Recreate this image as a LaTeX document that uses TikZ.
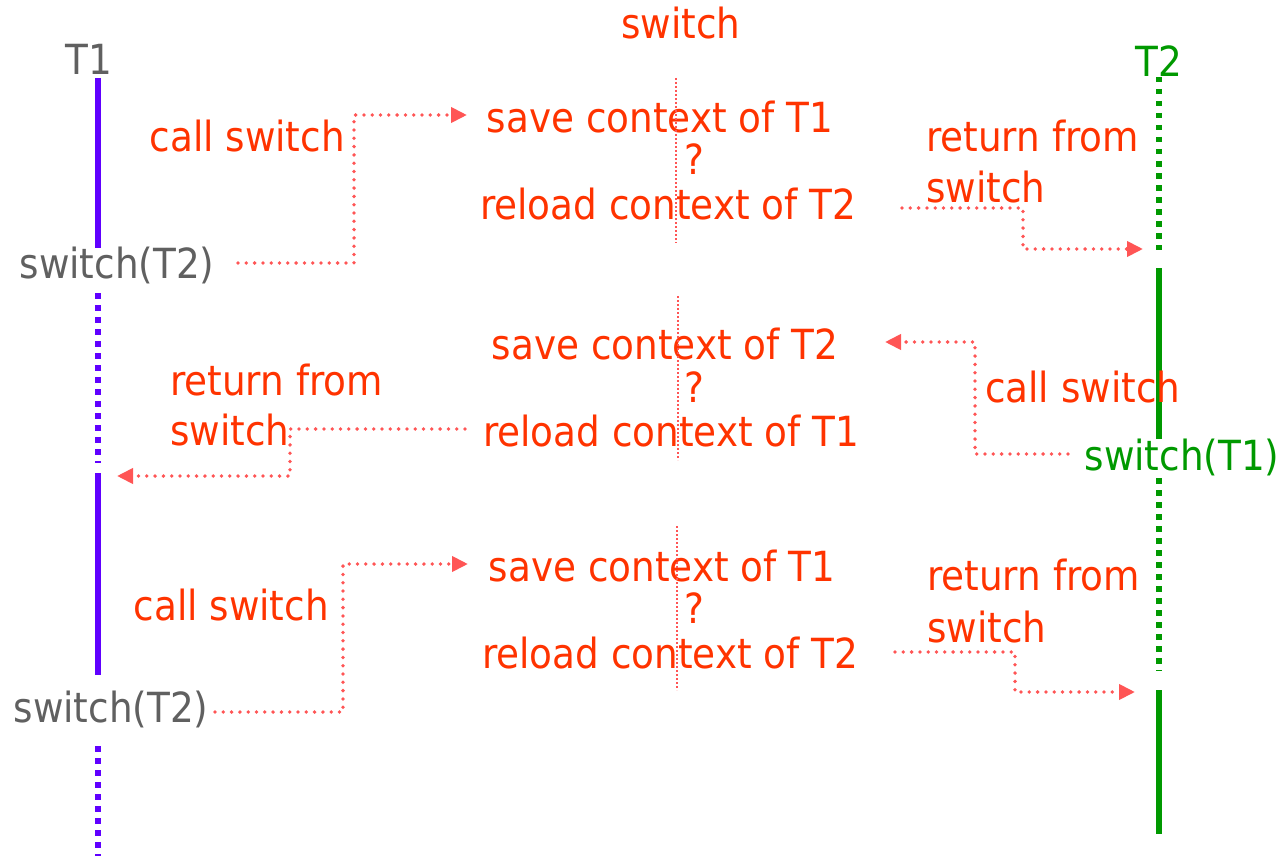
\documentclass[tikz,border=0pt]{standalone}
\usepackage{fontspec}
\setmainfont{DejaVu Sans Condensed}
\usetikzlibrary{arrows.meta}
\definecolor{txtred}{HTML}{FF3300}
\definecolor{flowred}{HTML}{FF5555}
\definecolor{txtgray}{HTML}{606060}
\definecolor{tonepurple}{HTML}{6000FF}
\definecolor{tonegreen}{HTML}{009900}
\begin{document}
\begin{tikzpicture}[x=1pt,y=-1pt,
  lbl/.style={inner sep=0pt, font=\fontsize{41.5}{50}\selectfont},
  redtxt/.style={lbl, text=txtred},
  graytxt/.style={lbl, text=txtgray},
  greentxt/.style={lbl, text=tonegreen},
  run/.style={line width=6pt},
  wait/.style={line width=6pt, dash pattern=on 5.5pt off 6.5pt},
  flow/.style={draw=flowred, line width=3.8pt, line cap=round,
    dash pattern=on 0pt off 8.3pt, -{Triangle[length=16pt,width=15pt]}},
  axis/.style={draw=flowred, line width=2pt, dash pattern=on 2pt off 2pt}
]
\useasboundingbox (0,0) rectangle (1285,856);

% headings
\node[redtxt, anchor=base] (title) at (681,39) {switch};
\node[graytxt, anchor=base] (t1) at (89,75) {T1};
\node[greentxt, anchor=base] (t2) at (1159,77) {T2};

% thread T1 timeline
\coordinate (p1a) at (98,78);  \coordinate (p1b) at (98,248);
\coordinate (p1c) at (98,293); \coordinate (p1d) at (98,463);
\coordinate (p1e) at (98,473); \coordinate (p1f) at (98,675);
\coordinate (p1g) at (98,746); \coordinate (p1h) at (98,856);
\draw[run, tonepurple] (p1a) -- (p1b);
\draw[wait, tonepurple] (p1c) -- (p1d);
\draw[run, tonepurple] (p1e) -- (p1f);
\draw[wait, tonepurple] (p1g) -- (p1h);

% thread T2 timeline
\coordinate (p2a) at (1159,77);  \coordinate (p2b) at (1159,250);
\coordinate (p2c) at (1159,268); \coordinate (p2d) at (1159,439);
\coordinate (p2e) at (1159,478); \coordinate (p2f) at (1159,671);
\coordinate (p2g) at (1159,690); \coordinate (p2h) at (1159,834);
\draw[wait, tonegreen] (p2a) -- (p2b);
\draw[run, tonegreen] (p2c) -- (p2d);
\draw[wait, tonegreen] (p2e) -- (p2f);
\draw[run, tonegreen] (p2g) -- (p2h);

% switch calls on the threads
\node[graytxt, anchor=base] (sw1) at (117,278) {switch(T2)};
\node[greentxt, anchor=base] (sw2) at (1182,470) {switch(T1)};
\node[graytxt, anchor=base] (sw3) at (111,722) {switch(T2)};

% labels on the transfers
\node[redtxt, anchor=base east] (cs1) at (345,152) {call switch};
\node[redtxt, anchor=base west] (rf1) at (926,152) {return from};
\node[redtxt, anchor=base west] (rf1s) at (926,202) {switch};
\node[redtxt, anchor=base west] (cs2) at (985,402) {call switch};
\node[redtxt, anchor=base west] (rf2) at (170,395) {return from};
\node[redtxt, anchor=base west] (rf2s) at (170,445) {switch};
\node[redtxt, anchor=base east] (cs3) at (329,620) {call switch};
\node[redtxt, anchor=base west] (rf3) at (927,590) {return from};
\node[redtxt, anchor=base west] (rf3s) at (927,642) {switch};

% context switch blocks
\coordinate (m1a) at (676,78);  \coordinate (m1b) at (676,243);
\coordinate (m2a) at (678,296); \coordinate (m2b) at (678,460);
\coordinate (m3a) at (677,526); \coordinate (m3b) at (677,690);

\node[redtxt, anchor=base] (save1) at (660,132) {save context of T1};
\node[redtxt, anchor=base] (q1) at (694,175) {?};
\node[redtxt, anchor=base] (load1) at (668,219) {reload context of T2};

\node[redtxt, anchor=base] (save2) at (665,359) {save context of T2};
\node[redtxt, anchor=base] (q2) at (694,402) {?};
\node[redtxt, anchor=base] (load2) at (671,446) {reload context of T1};

\node[redtxt, anchor=base] (save3) at (662,581) {save context of T1};
\node[redtxt, anchor=base] (q3) at (694,623) {?};
\node[redtxt, anchor=base] (load3) at (670,668) {reload context of T2};

\draw[axis] (m1a) -- (m1b);
\draw[axis] (m2a) -- (m2b);
\draw[axis] (m3a) -- (m3b);

% control transfers
\coordinate (f1s) at (238,263);  \coordinate (f1c) at (354,115);  \coordinate (f1e) at (467,115);
\coordinate (f2s) at (902,208);  \coordinate (f2c) at (1023,249); \coordinate (f2e) at (1143,249);
\coordinate (f3s) at (1068,454); \coordinate (f3c) at (975,342);  \coordinate (f3e) at (885,342);
\coordinate (f4s) at (465,429);  \coordinate (f4c) at (290,476);  \coordinate (f4e) at (117,476);
\coordinate (f5s) at (215,712);  \coordinate (f5c) at (343,564);  \coordinate (f5e) at (468,564);
\coordinate (f6s) at (895,652);  \coordinate (f6c) at (1015,692); \coordinate (f6e) at (1135,692);

\draw[flow] (f1s) -| (f1c) -- (f1e);
\draw[flow] (f2s) -| (f2c) -- (f2e);
\draw[flow] (f3s) -| (f3c) -- (f3e);
\draw[flow] (f4s) -| (f4c) -- (f4e);
\draw[flow] (f5s) -| (f5c) -- (f5e);
\draw[flow] (f6s) -| (f6c) -- (f6e);
\end{tikzpicture}
\end{document}
